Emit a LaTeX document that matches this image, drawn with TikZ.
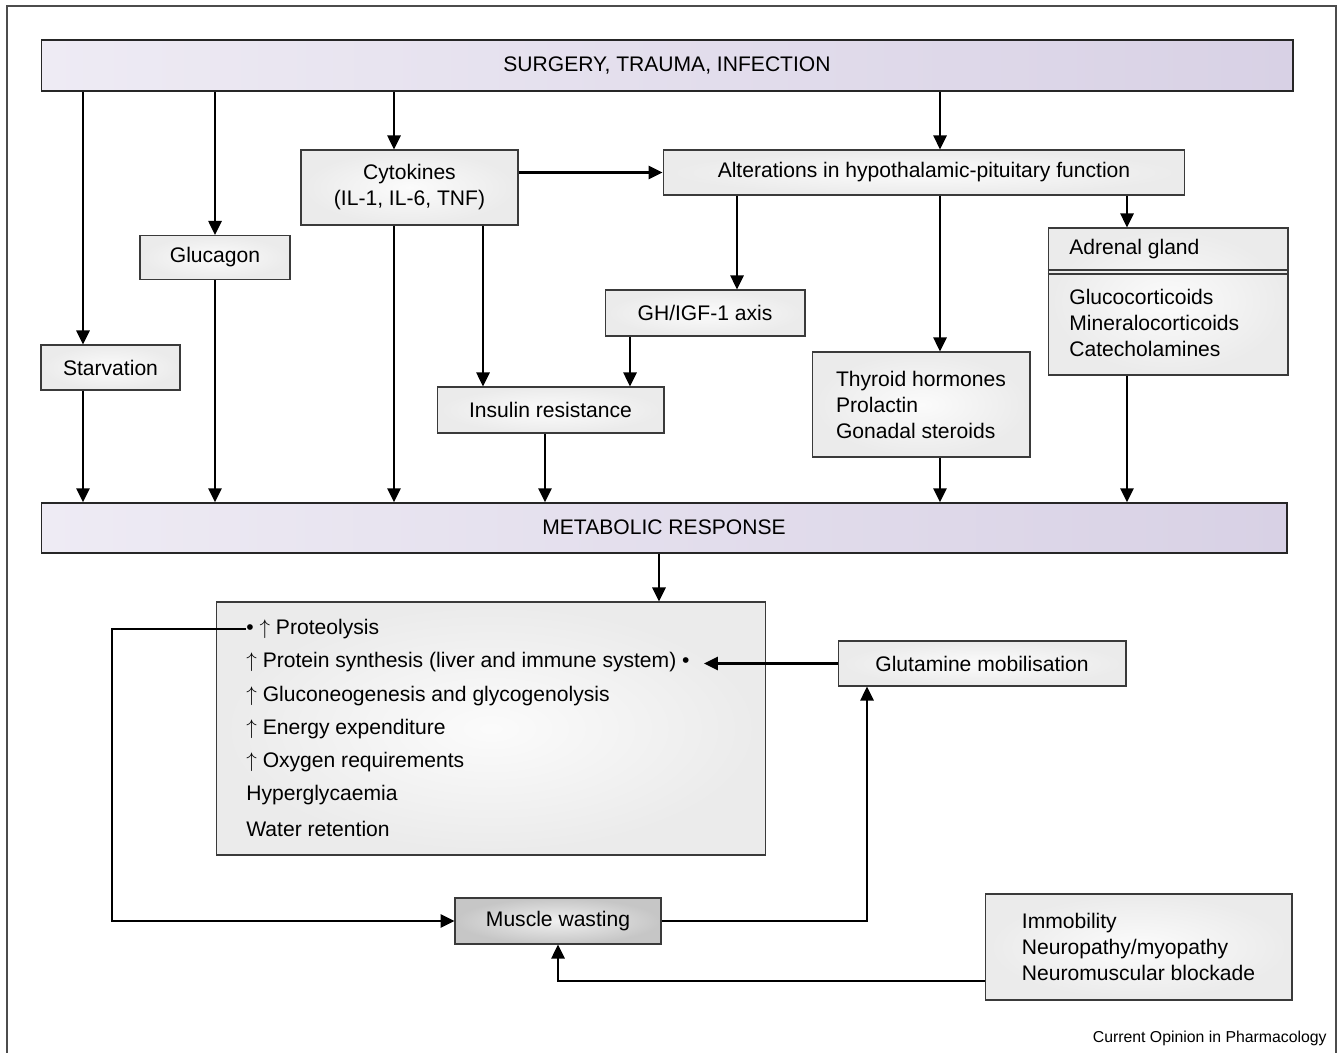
\documentclass[tikz,border=0pt]{standalone}
\usepackage{fontspec}
\setmainfont{Liberation Sans}
\usetikzlibrary{arrows.meta}
\definecolor{lavL}{HTML}{EEEBF4}
\definecolor{lavR}{HTML}{D8D1E5}
\definecolor{edge}{HTML}{3A3A3A}
\begin{document}
\begin{tikzpicture}[x=0.02cm,y=-0.02cm,
	txt/.style={font=\fontsize{12}{14.8}\selectfont,inner sep=0pt},
	box/.style={draw=edge,line width=0.6pt,inner color=gray!3,outer color=gray!16,font=\fontsize{12}{14.8}\selectfont,align=center},
	mbox/.style={box,inner color=gray!12,outer color=gray!45},
	bar/.style={draw=black!85,line width=0.7pt,left color=lavL,right color=lavR,font=\fontsize{12}{14.8}\selectfont,text depth=0.05cm},
	arr/.style={line width=1.5pt,-{Triangle[length=0.28cm,width=0.26cm]}},
	wire/.style={line width=1.5pt}]
	\useasboundingbox (0,0) rectangle (1342,1053);
	\draw[black!70,line width=0.6pt] (7,1053) -- (7,6) -- (1336,6) -- (1336,1053);

	\node[bar,minimum width=25.04cm,minimum height=1.02cm] (top) at (667,65.5) {SURGERY, TRAUMA, INFECTION};
	\node[bar,minimum width=24.92cm,minimum height=1cm] (met) at (664,528) {METABOLIC RESPONSE};

	\node[box,minimum width=4.34cm,minimum height=1.5cm] (cyto) at (409.5,187.5) {Cytokines\\(IL-1, IL-6, TNF)};
	\node[box,minimum width=10.44cm,minimum height=0.9cm] (alt) at (924,172.5) {Alterations in hypothalamic-pituitary function};
	\node[box,minimum width=3cm,minimum height=0.88cm] (gluc) at (215,257.5) {Glucagon};
	\node[box,minimum width=2.78cm,minimum height=0.9cm] (starv) at (110.5,367.5) {Starvation};
	\node[box,minimum width=4cm,minimum height=0.92cm] (gh) at (705,313) {GH/IGF-1 axis};
	\node[box,minimum width=4.54cm,minimum height=0.92cm] (ins) at (550.5,410) {Insulin resistance};
	\node[box,align=left,minimum width=4.36cm,minimum height=2.1cm] (thy) at (921,404.5) {Thyroid hormones\\Prolactin\\Gonadal steroids};
	\node[box,minimum width=4.8cm,minimum height=2.94cm] (adr) at (1168,301.5) {};
	\node[txt,anchor=west] (adrhead) at (1069,249) {Adrenal gland};
	\node[txt,anchor=west,align=left] (adrlist) at (1069,323) {Glucocorticoids\\Mineralocorticoids\\Catecholamines};
	\draw[edge,line width=0.7pt] (adr.west |- 0,270) -- (adr.east |- 0,270);
	\draw[edge,line width=0.7pt] (adr.west |- 0,274) -- (adr.east |- 0,274);

	\node[box,minimum width=11cm,minimum height=5.06cm] (list) at (491,728.5) {};
	\foreach \t [count=\i] in {{\textbullet\ $\uparrow$ Proteolysis},
		{$\uparrow$ Protein synthesis (liver and immune system) \textbullet},
		{$\uparrow$ Gluconeogenesis and glycogenolysis},
		{$\uparrow$ Energy expenditure},
		{$\uparrow$ Oxygen requirements},
		{Hyperglycaemia},
		{Water retention}}
		\node[txt,anchor=west] (ln\i) at (246,{629+33.3*(\i-1)}) {\t};
	\node[box,minimum width=5.76cm,minimum height=0.9cm] (glut) at (982,663.5) {Glutamine mobilisation};
	\node[mbox,minimum width=4.12cm,minimum height=0.92cm] (musc) at (558,921) {Muscle wasting};
	\node[box,align=left,minimum width=6.14cm,minimum height=2.12cm] (imm) at (1138.5,947) {Immobility\\Neuropathy/myopathy\\Neuromuscular blockade};
	\node[anchor=east,font=\fontsize{9}{11}\selectfont,inner sep=0pt] (credit) at (1327,1038) {Current Opinion in Pharmacology};

	\coordinate (xStarv) at (83,0);
	\coordinate (xCyto) at (394,0);
	\coordinate (xAlt) at (940,0);
	\coordinate (xGH) at (737,0);
	\coordinate (xAdr) at (1127,0);
	\coordinate (xIns) at (483,0);
	\coordinate (xGHi) at (630,0);
	\coordinate (xInsM) at (545,0);
	\coordinate (xList) at (659,0);
	\coordinate (xGlut) at (867,0);
	\coordinate (xLoop) at (112,0);
	\coordinate (yImm) at (0,981);
	\path ([xshift=0.28cm]ln2.east) coordinate (ptip);

	\draw[arr] (xStarv |- top.south) -- (xStarv |- starv.north);
	\draw[arr] (xStarv |- starv.south) -- (xStarv |- met.north);
	\draw[arr] (gluc |- top.south) -- (gluc.north);
	\draw[arr] (gluc.south) -- (gluc |- met.north);
	\draw[arr] (xCyto |- top.south) -- (xCyto |- cyto.north);
	\draw[arr] (xCyto |- cyto.south) -- (xCyto |- met.north);
	\draw[arr] (xAlt |- top.south) -- (xAlt |- alt.north);
	\draw[arr] (cyto.east |- alt.west) -- (alt.west);
	\draw[arr] (xGH |- alt.south) -- (xGH |- gh.north);
	\draw[arr] (xAlt |- alt.south) -- (xAlt |- thy.north);
	\draw[arr] (xAdr |- alt.south) -- (xAdr |- adr.north);
	\draw[arr] (xIns |- cyto.south) -- (xIns |- ins.north);
	\draw[arr] (xGHi |- gh.south) -- (xGHi |- ins.north);
	\draw[arr] (xInsM |- ins.south) -- (xInsM |- met.north);
	\draw[arr] (xAlt |- thy.south) -- (xAlt |- met.north);
	\draw[arr] (xAdr |- adr.south) -- (xAdr |- met.north);
	\draw[arr] (xList |- met.south) -- (xList |- list.north);
	\draw[arr] (glut.west) -- (ptip |- glut.west);
	\draw[arr] (ln1.west) -- (xLoop |- ln1.west) -- (xLoop |- musc.west) -- (musc.west);
	\draw[arr] (musc.east) -- (xGlut |- musc.east) -- (xGlut |- glut.south);
	\draw[arr] (yImm -| imm.west) -- (musc |- yImm) -- (musc.south);
\end{tikzpicture}
\end{document}
